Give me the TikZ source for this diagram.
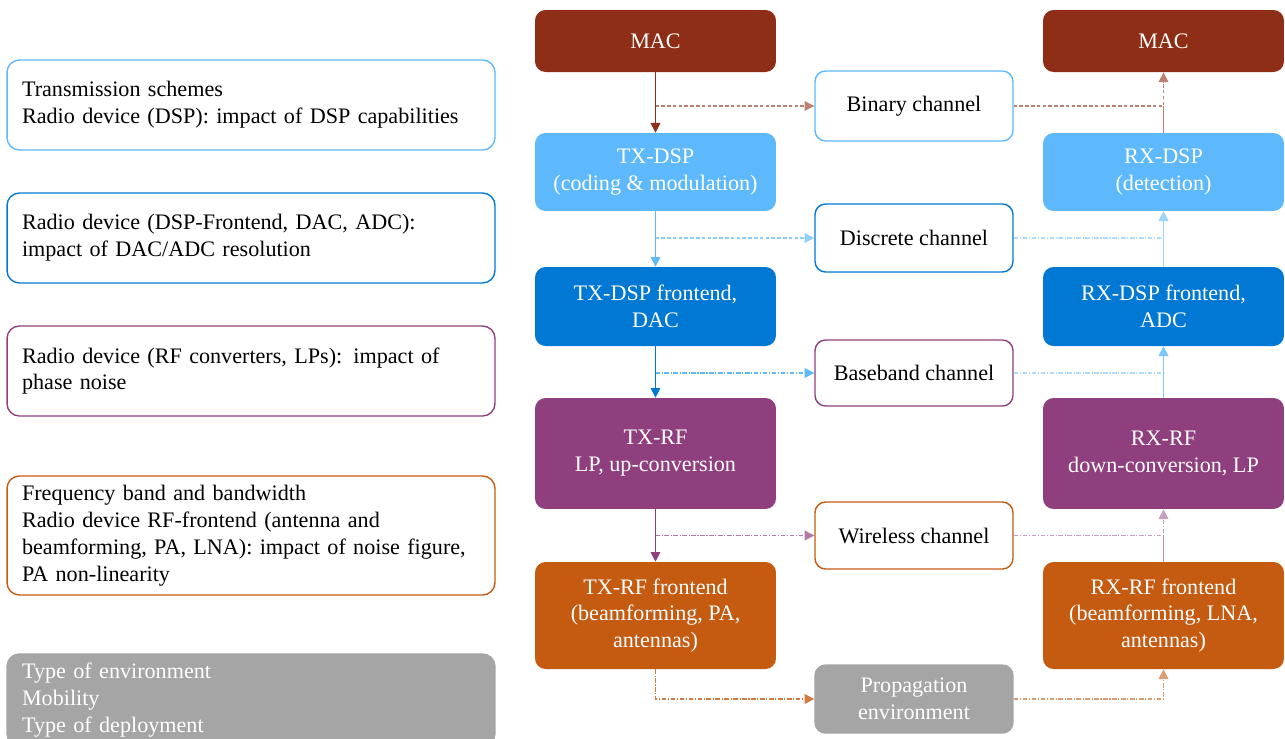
\documentclass[tikz,border=0pt]{standalone}
\usepackage{fontspec}
\setmainfont{Liberation Serif}
\usepackage{tikz}
\usetikzlibrary{arrows.meta}

\definecolor{macred}{HTML}{8E2E17}
\definecolor{lblue}{HTML}{5DB9FB}
\definecolor{dblue}{HTML}{0078D4}
\definecolor{lpurple}{HTML}{8F3F7D}
\definecolor{rforange}{HTML}{C55A11}
\definecolor{envgray}{HTML}{A5A5A5}

\begin{document}
\begin{tikzpicture}[
            x=0.02cm, y=-0.02cm,
            >={Triangle[length=5.5pt, width=5.5pt]},
            every node/.style={font=\fontsize{12.6}{15.3}\selectfont}, % Times-like text
            block/.style={rounded corners=6pt, text=white, align=center, minimum width=4.82cm}, % TX / RX blocks
            chan/.style={rounded corners=6pt, draw, line width=0.8pt, fill=white, align=center, minimum width=3.96cm}, % channel boxes
            note/.style={rounded corners=7pt, draw, line width=0.8pt, align=left, text width=9.16cm, inner xsep=0.30cm, minimum width=9.76cm}, % left notes
            link/.style={line width=0.6pt, ->},
            dashlink/.style={line width=0.6pt, dash pattern=on 2pt off 1.3pt},
            dotlink/.style={line width=0.6pt, dash pattern=on 2.5pt off 1pt on 0.6pt off 1pt}
            ]
    \useasboundingbox (0,0) rectangle (1285,738);

    % Left column: what is modelled at each level
    \node[note, draw=lblue, minimum height=1.80cm] (n1) at (251,105) {Transmission schemes\\Radio device (DSP): impact of DSP capabilities};
    \node[note, draw=dblue, minimum height=1.80cm] (n2) at (251,238) {Radio device (DSP-Frontend, DAC, ADC):\\impact of DAC/ADC resolution};
    \node[note, draw=lpurple, minimum height=1.80cm] (n3) at (251,371) {Radio device (RF converters, LPs): impact of\\phase noise};
    \node[note, draw=rforange, minimum height=2.38cm] (n4) at (251,535.5) {Frequency band and bandwidth\\Radio device RF-frontend (antenna and\\beamforming, PA, LNA): impact of noise figure,\\PA non-linearity};
    \node[note, draw=envgray, fill=envgray, text=white, minimum height=1.84cm] (n5) at (251,700) {Type of environment\\Mobility\\Type of deployment};

    % Transmitter chain
    \node[block, fill=macred, minimum height=1.24cm] (txmac) at (655.5,41) {MAC};
    \node[block, fill=lblue, minimum height=1.56cm] (txdsp) at (655.5,172) {TX-DSP\\(coding \& modulation)};
    \node[block, fill=dblue, minimum height=1.58cm] (txfe) at (655.5,306.5) {TX-DSP frontend,\\DAC};
    \node[block, fill=lpurple, minimum height=2.22cm] (txrf) at (655.5,453.5) {TX-RF\\LP, up-conversion};
    \node[block, fill=rforange, minimum height=2.14cm] (txrffe) at (655.5,615.5) {TX-RF frontend\\(beamforming, PA,\\antennas)};

    % Receiver chain
    \node[block, fill=macred, minimum height=1.24cm] (rxmac) at (1163.5,41) {MAC};
    \node[block, fill=lblue, minimum height=1.56cm] (rxdsp) at (1163.5,172) {RX-DSP\\(detection)};
    \node[block, fill=dblue, minimum height=1.58cm] (rxfe) at (1163.5,306.5) {RX-DSP frontend,\\ADC};
    \node[block, fill=lpurple, minimum height=2.22cm] (rxrf) at (1163.5,453.5) {RX-RF\\down-conversion, LP};
    \node[block, fill=rforange, minimum height=2.14cm] (rxrffe) at (1163.5,615.5) {RX-RF frontend\\(beamforming, LNA,\\antennas)};

    % Channel abstractions
    \node[chan, draw=lblue, minimum height=1.40cm] (binary) at (914,106) {Binary channel};
    \node[chan, draw=dblue, minimum height=1.36cm] (discrete) at (914,238) {Discrete channel};
    \node[chan, draw=lpurple, minimum height=1.32cm] (baseband) at (914,373) {Baseband channel};
    \node[chan, draw=rforange, minimum height=1.34cm] (wireless) at (914,535.5) {Wireless channel};
    \node[chan, draw=envgray, fill=envgray, text=white, minimum height=1.36cm] (prop) at (914,699) {Propagation\\environment};

    % Abstraction links through the channels
    \draw[dashlink, ->, macred!60] (txmac.south |- binary.west) -- (binary.west);
    \draw[dashlink, ->, macred!60] (binary.east) -| (rxmac.south);
    \draw[dashlink, ->, lblue!70] (txdsp.south |- discrete.west) -- (discrete.west);
    \draw[dotlink, ->, lblue!50] (discrete.east) -| (rxdsp.south);
    \draw[dotlink, ->, lblue] (txfe.south |- baseband.west) -- (baseband.west);
    \draw[dotlink, ->, lblue!50] (baseband.east) -| (rxfe.south);
    \draw[dotlink, ->, lpurple!70] (txrf.south |- wireless.west) -- (wireless.west);
    \draw[dotlink, ->, lpurple!50] (wireless.east) -| (rxrf.south);
    \draw[dotlink, ->, rforange!80] (txrffe.south) |- (prop.west);
    \draw[dotlink, ->, rforange!60] (prop.east) -| (rxrffe.south);

    % Transmitter chain links
    \draw[link, macred] (txmac) -- (txdsp);
    \draw[link, lblue] (txdsp) -- (txfe);
    \draw[link, dblue] (txfe) -- (txrf);
    \draw[link, lpurple] (txrf) -- (txrffe);

    % Receiver chain links
    \draw[line width=0.6pt, macred!60] (rxdsp.north) -- (rxdsp.north |- binary.east);
    \draw[link, lblue!60] (rxfe) -- (rxdsp);
    \draw[link, lblue!80] (rxrf) -- (rxfe);
    \draw[line width=0.6pt, lpurple!60] (rxrffe.north) -- (rxrffe.north |- wireless.east);

\end{tikzpicture}
\end{document}
